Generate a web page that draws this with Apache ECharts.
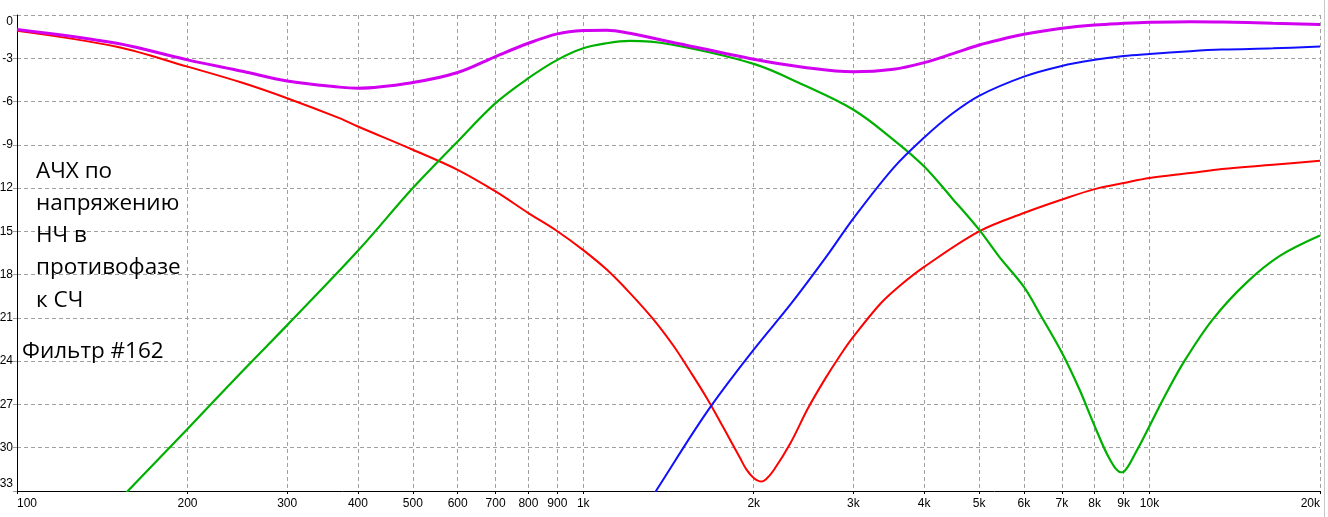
<!DOCTYPE html>
<html><head><meta charset="utf-8">
<script src="https://cdn.jsdelivr.net/npm/echarts@6/dist/echarts.min.js"></script>
<style>html,body{margin:0;padding:0;background:#fff}#c{width:1328px;height:517px}</style>
</head><body><div id="c"></div>
<script>
// Frequencies (Hz) and levels (dB)
const redFreq = [100,150,200,250,300,371,400,500,600,700,800,900,1000,1100,1208,1330,1444,1547,1655,1768,1891,1941,2000,2063,2100,2166,2324,2491,2670,2853,3000,3350,3627,4000,5000,6000,7000,8000,9000,10000,11800,13424,16510,20000];
const redDb   = [-1.1,-2.2,-3.58,-4.7,-5.77,-7.15,-7.73,-9.34,-10.73,-12.23,-13.73,-14.99,-16.3,-17.65,-19.26,-21.1,-22.95,-24.75,-26.6,-28.6,-30.7,-31.5,-32.1,-32.35,-32.2,-31.6,-29.65,-27.3,-25.26,-23.5,-22.3,-20.0,-18.75,-17.46,-15.0,-13.73,-12.8,-12.07,-11.65,-11.3,-10.96,-10.68,-10.38,-10.1];

const greenFreq = [150,200,250,300,400,500,600,700,800,900,1000,1100,1208,1421,2000,2445,3000,3531,4000,4480,5000,5424,6000,6418,7000,7518,8000,8506,8894,9000,9465,10000,10614,11520,12931,14820,16960,20000];
const greenDb   = [-33.8,-28.7,-24.7,-21.5,-16.35,-12.0,-8.77,-6.11,-4.38,-3.11,-2.31,-1.96,-1.8,-2.03,-3.39,-4.84,-6.57,-8.65,-10.5,-12.7,-14.88,-16.75,-18.85,-20.8,-23.4,-25.95,-28.5,-30.8,-31.7,-31.67,-30.3,-28.5,-26.5,-24.0,-21.1,-18.57,-16.72,-15.29];

const blueFreq = [1300,1349,1655,2000,2324,2693,3000,3531,4000,4480,5000,6000,7000,8000,9000,10000,11800,13424,16510,20000];
const blueDb   = [-33.9,-32.9,-27.5,-23.2,-20.05,-16.7,-14.1,-10.6,-8.5,-6.85,-5.6,-4.27,-3.53,-3.11,-2.84,-2.7,-2.51,-2.4,-2.31,-2.19];

const magFreq = [100,150,200,250,300,371,400,500,600,700,800,900,1000,1100,1208,1421,2000,2445,3000,3531,4000,4480,5000,5218,6000,7000,8000,9000,10000,11800,13424,16510,20000];
const magDb   = [-1.0,-1.96,-3.11,-3.9,-4.57,-5.0,-5.07,-4.68,-3.99,-2.88,-1.96,-1.31,-1.08,-1.05,-1.27,-1.85,-3.07,-3.62,-3.94,-3.76,-3.3,-2.7,-2.08,-1.89,-1.34,-0.92,-0.69,-0.58,-0.51,-0.46,-0.48,-0.58,-0.65];

const xTickValues = [100,200,300,400,500,600,700,800,900,1000,2000,3000,4000,5000,6000,7000,8000,9000,10000,20000];
const xTickLabels = ['100','200','300','400','500','600','700','800','900','1k','2k','3k','4k','5k','6k','7k','8k','9k','10k','20k'];

const noteLines = ['АЧХ по','напряжению','НЧ в','противофазе','к СЧ'];
const filterLabel = 'Фильтр #162';

function pairs(f, d) { return f.map((v, i) => [v, d[i]]); }

const chart = echarts.init(document.getElementById('c'), null, {renderer: 'canvas'});
const gridColor = '#a0a0a0';
const mkSeries = (name, f, d, color, w) => ({
  name, type: 'line', data: pairs(f, d), showSymbol: false, symbol: 'none',
  smooth: 0.35, clip: true,
  lineStyle: {color, width: w}, itemStyle: {color}, z: 3
});

chart.setOption({
  animation: false,
  backgroundColor: '#ffffff',
  grid: {left: 17, right: 8, top: 15, bottom: 26, containLabel: false, outerBoundsMode: 'none'},
  xAxis: {
    type: 'log', logBase: 10, min: 100, max: 20000,
    axisLine: {show: true, onZero: false, lineStyle: {color: '#000', width: 1}},
    axisTick: {show: true, customValues: xTickValues, length: 3, inside: false, lineStyle: {color: '#000'}},
    axisLabel: {
      customValues: xTickValues,
      formatter: v => { const i = xTickValues.indexOf(v); return i >= 0 ? xTickLabels[i] : ''; },
      color: '#000', fontSize: 12, fontFamily: 'Liberation Sans', margin: 7,
      alignMinLabel: 'left', alignMaxLabel: 'right'
    },
    splitLine: {show: true, lineStyle: {color: gridColor, type: [4, 3], width: 1}},
    minorTick: {show: false}, minorSplitLine: {show: false}
  },
  yAxis: {
    type: 'value', min: -33, max: 0, interval: 3,
    axisLine: {show: true, onZero: false, lineStyle: {color: '#000', width: 1}},
    axisTick: {show: true, length: 4, lineStyle: {color: gridColor}},
    axisLabel: {
      color: '#000', fontSize: 12, fontFamily: 'Liberation Sans', margin: 4,
      formatter: v => v === 0 ? '{t|0}' : (v === -33 ? '{b|-33}' : String(v)),
      rich: {
        t: {color: '#000', fontSize: 12, fontFamily: 'Liberation Sans', padding: [14, 0, 0, 0]},
        b: {color: '#000', fontSize: 12, fontFamily: 'Liberation Sans', padding: [0, 0, 14, 0]}
      }
    },
    splitLine: {show: true, lineStyle: {color: gridColor, type: [4, 3], width: 1}}
  },
  series: [
    mkSeries('red', redFreq, redDb, '#ff0000', 2),
    mkSeries('green', greenFreq, greenDb, '#00b000', 2.2),
    mkSeries('blue', blueFreq, blueDb, '#1010ff', 2),
    mkSeries('magenta', magFreq, magDb, '#d200f0', 3)
  ],
  graphic: [
    {type: 'text', left: 36, top: 155, z: 10, silent: true,
      style: {text: noteLines.join('\n'), font: '22.5px "Open Sans"', fill: '#000', lineHeight: 32.25}},
    {type: 'text', left: 22, top: 335, z: 10, silent: true,
      style: {text: filterLabel, font: '22.5px "Open Sans"', fill: '#000', lineHeight: 32.25}},
    {type: 'rect', shape: {x: 1324, y: 0, width: 1, height: 517}, style: {fill: '#c8c8c8'}, silent: true}
  ]
});
</script>
</body></html>
